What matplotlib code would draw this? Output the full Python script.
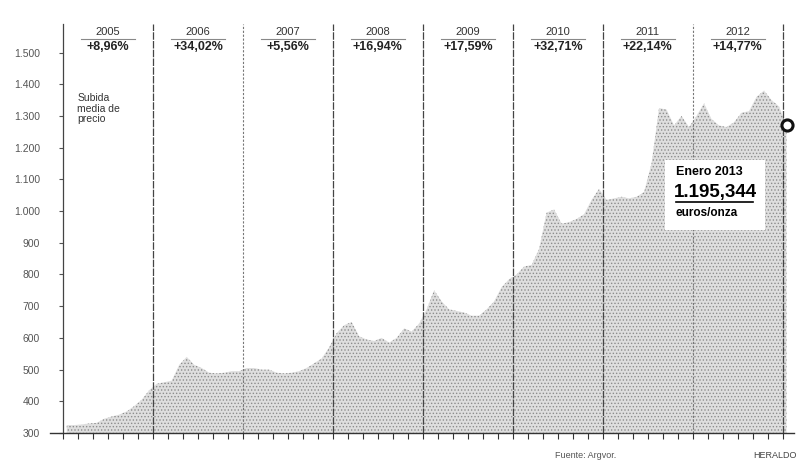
import matplotlib.pyplot as plt
import numpy as np

plt.rcParams['font.family'] = ['Liberation Sans Narrow', 'Liberation Sans', 'DejaVu Sans']
plt.rcParams['hatch.linewidth'] = 0.6

# precio medio mensual del oro, euros/onza, ene 2005 - ene 2013
precio = [325, 325, 327, 330, 332, 345, 352, 358, 368, 385, 405, 435,
          455, 460, 465, 515, 540, 515, 505, 490, 488, 490, 495, 495,
          505, 505, 500, 500, 490, 488, 490, 495, 505, 520, 535, 570,
          615, 640, 650, 605, 595, 590, 600, 585, 600, 630, 620, 645,
          690, 750, 715, 690, 685, 680, 670, 670, 690, 715, 760, 785,
          800, 825, 830, 880, 995, 1005, 960, 965, 975, 990, 1035, 1070,
          1035, 1040, 1045, 1040, 1045, 1060, 1150, 1325, 1320, 1270, 1300, 1265,
          1300, 1340, 1290, 1270, 1265, 1280, 1310, 1315, 1360, 1380, 1350, 1330,
          1270]
anios = ['2005', '2006', '2007', '2008', '2009', '2010', '2011', '2012']
subidas = ['+8,96%', '+34,02%', '+5,56%', '+16,94%', '+17,59%', '+32,71%', '+22,14%', '+14,77%']
yticks = [300, 400, 500, 600, 700, 800, 900, 1000, 1100, 1200, 1300, 1400, 1500]
ylabels = ['300', '400', '500', '600', '700', '800', '900', '1.000', '1.100', '1.200', '1.300', '1.400', '1.500']

x = np.arange(len(precio)) + 0.5

fig = plt.figure(figsize=(8.02, 4.66), dpi=100)
ax = fig.add_axes([63/802, 33/466, 731/802, 409/466])

ax.fill_between(x, 300, precio, facecolor='#dedede', edgecolor='#8c8c8c',
                hatch='.....', linewidth=0, zorder=1)

# separadores de año
for k in range(1, 9):
    if k in (2, 7):
        ax.axvline(12*k, color='#777777', lw=0.8, ls=(0, (2, 1.5)), zorder=2)
    else:
        ax.axvline(12*k, color='#444444', lw=0.9, ls=(0, (6, 1)), zorder=2)

# cabecera de cada año
tr = ax.get_xaxis_transform()
for k in range(8):
    cx = 12*k + 6
    ax.text(cx, 0.980, anios[k], transform=tr, ha='center', va='center',
            fontsize=8, color='#333333')
    ax.plot([cx-3.6, cx+3.6], [0.963, 0.963], transform=tr, color='#888888', lw=0.8)
    ax.text(cx, 0.944, subidas[k], transform=tr, ha='center', va='center',
            fontsize=9, fontweight='bold', color='#222222')

ax.text(1.9, 1372, 'Subida\nmedia de\nprecio', ha='left', va='top', fontsize=7.5,
        color='#333333', linespacing=1.05)

# recuadro del último dato
ax.add_patch(plt.Rectangle((80.3, 940), 13.3, 221, facecolor='white', edgecolor='none', zorder=3))
ax.text(81.7, 1123, 'Enero 2013', fontsize=9, fontweight='bold', va='center', zorder=4)
ax.text(81.5, 1057, '1.195,344', fontsize=13.5, fontweight='bold', va='center', zorder=4)
ax.plot([81.7, 92.0], [1029, 1029], color='black', lw=1.2, zorder=4)
ax.text(81.7, 994, 'euros/onza', fontsize=8.5, fontweight='bold', va='center', zorder=4)

ax.plot(x[-1], precio[-1], 'o', ms=8, mfc='white', mec='#111111', mew=2.2, zorder=5, clip_on=False)

ax.set_xlim(0, 97.5)
ax.set_ylim(300, 1590)
ax.set_xticks(range(0, 97, 2))
ax.set_xticklabels([])
ax.set_yticks(yticks)
ax.set_yticklabels(ylabels)
ax.tick_params(axis='x', direction='out', length=4, width=0.8, color='#333333')
ax.tick_params(axis='y', direction='out', length=3, width=0.8, color='#555555',
               labelsize=7.5, labelcolor='#555555', pad=13.5)
for s in ['top', 'right', 'bottom']:
    ax.spines[s].set_visible(False)
ax.spines['left'].set_color('#444444')
ax.spines['left'].set_linewidth(0.9)
ax.plot([-0.018, 1], [0, 0], transform=ax.transAxes, color='#333333', lw=1.0, clip_on=False, zorder=4)

fig.text(555/802, 1 - 455/466, 'Fuente: Argvor.', fontsize=6.5, color='#555555', va='center')
fig.text(797/802, 1 - 455/466, 'HERALDO', fontsize=6.5, color='#444444', va='center', ha='right')

fig.savefig('out.png', dpi=100)
